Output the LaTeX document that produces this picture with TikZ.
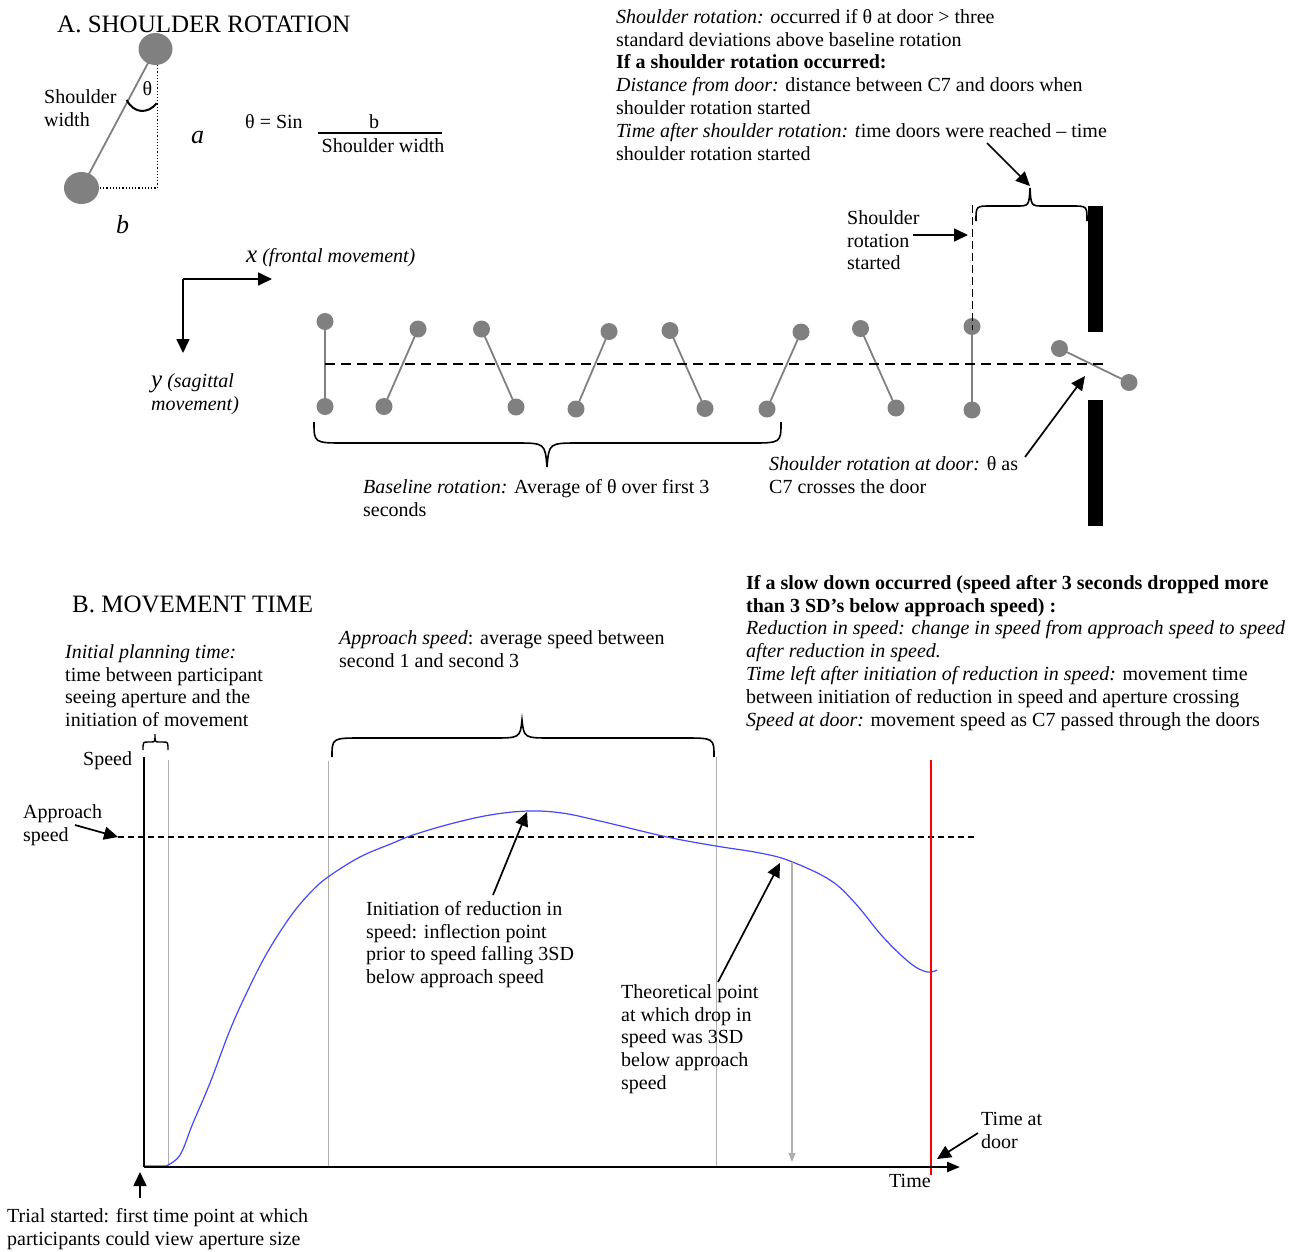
\documentclass[tikz,border=0pt]{standalone}
\usepackage{fontspec}
\setmainfont{Liberation Serif}
\usetikzlibrary{arrows.meta}
\definecolor{markgray}{RGB}{128,128,128}
\definecolor{lightgr}{RGB}{175,175,175}
\definecolor{curveblue}{RGB}{70,70,255}
\newcommand\bodyfont{\fontsize{20}{22.8}\selectfont}
\newcommand\headfont{\fontsize{25}{28}\selectfont}
\newcommand\bigit{\fontsize{26}{28}\selectfont\itshape}
\newcommand\axit{\fontsize{25}{28}\selectfont\itshape}
\begin{document}
\begin{tikzpicture}[x=1pt,y=-1pt,
  txt/.style={anchor=north west,inner sep=0pt,align=left,font=\bodyfont,yshift=15.96pt},
  one/.style={anchor=base west,inner sep=0pt,font=\bodyfont},
  arr/.style={line width=1.7pt,-{Triangle[length=14pt,width=13pt]}},
  grayarr/.style={line width=1.2pt,draw=lightgr,-{Triangle[length=9pt,width=7pt,fill=lightgr]}},
  brace/.style={line width=1.6pt},
  marker/.style={fill=markgray},
  markline/.style={draw=markgray,line width=1.8pt},
  thinline/.style={draw=lightgr,line width=1pt}]
\useasboundingbox (0,0) rectangle (1304,1251);

% ---------------- A. SHOULDER ROTATION ----------------
\node[one,font=\headfont] (hA) at (57,32) {A. SHOULDER ROTATION};

% shoulder schematic
\coordinate (topS) at (155.5,49);
\coordinate (botS) at (81.5,188);
\draw[markline] (topS) -- (botS);
\fill[marker] (topS) ellipse [x radius=17pt,y radius=16pt];
\fill[marker] (botS) ellipse [x radius=17.5pt,y radius=16pt];
\coordinate (dotTop) at (157.3,65);
\coordinate (dotCorner) at (157.3,188);
\coordinate (dotLeft) at (99,188);
\draw[dotted,line width=1.2pt] (dotTop) -- (dotCorner) -- (dotLeft);
\draw[line width=2pt] (126.7,100) .. controls (134,114) and (148,114) .. (156.7,103.3);
\node[one] (thetaA) at (142.5,95) {θ};
\node[txt] (swidth) at (44,103.5) {\strut Shoulder\\width};
\node[one,font=\bigit] (la) at (191,143) {a};
\node[one,font=\bigit] (lb) at (116,233) {b};
\node[one] (formula) at (245,128) {θ = Sin};
\node[anchor=base,inner sep=0pt,font=\bodyfont] (numb) at (374,128) {b};
\draw[line width=1.8pt] (318.3,133.3) -- (441.7,133.3);
\node[one] (denom) at (321.5,152) {Shoulder width};

% top right description
\node[txt] (toptext) at (616,23) {\strut\textit{Shoulder rotation: o}ccurred if θ at door > three\\
standard deviations above baseline rotation\\
\textbf{If a shoulder rotation occurred:}\\
\textit{Distance from door:} distance between C7 and doors when\\
shoulder rotation started\\
\textit{Time after shoulder rotation: t}ime doors were reached – time\\
shoulder rotation started};

% axes
\coordinate (axC) at (183,279);
\coordinate (axX) at (272,279);
\coordinate (axY) at (183,353);
\draw[arr] (axC) -- (axX);
\draw[arr] (axC) -- (axY);
\node[one] (xlab) at (246,262) {{\axit x} \textit{(frontal movement)}};
\node[txt] (ylab) at (151,387) {\strut{\axit y} \textit{(sagittal}\\\textit{movement)}};

% markers
\foreach \tx/\ty/\bx/\by [count=\i] in {325/321.5/325/406.5, 418/329/384/406.5, 481.5/329/516/407, 609/331.5/576/409, 670/330.5/705/408.5, 801/332/767/409, 860.5/328.5/896/408, 972/326.5/972/410}{
  \coordinate (mt\i) at (\tx,\ty);
  \coordinate (mb\i) at (\bx,\by);
  \draw[markline] (mt\i) -- (mb\i);
  \fill[marker] (mt\i) circle[radius=8.5pt];
  \fill[marker] (mb\i) circle[radius=8.5pt];
}
\coordinate (md1) at (1059.5,348.5);
\coordinate (md2) at (1129,382.5);
\draw[markline] (md1) -- (md2);
\fill[marker] (md1) circle[radius=8.5pt];
\fill[marker] (md2) circle[radius=8.5pt];

% walls of the door
\fill[black] (1088,206) rectangle (1103,332);
\fill[black] (1088,400) rectangle (1103,526);

% dashed midline
\coordinate (midL) at (325,364);
\coordinate (midR) at (1105,364);
\draw[dash pattern=on 10pt off 6pt,line width=1.6pt] (midL) -- (midR);
% dashed vertical at rotation start
\coordinate (rsTop) at (972.5,205);
\coordinate (rsBot) at (972.5,330);
\draw[dash pattern=on 8pt off 4pt,line width=1.6pt] (rsTop) -- (rsBot);

% brace time after rotation
\draw[brace] (976,221) .. controls (976,206) .. (991,206) -- (1016,206)
  .. controls (1029,206) .. (1030,188) .. controls (1031,206) .. (1044,206)
  -- (1072,206) .. controls (1087,206) .. (1087,221);
\coordinate (braceTip) at (1030,186);
\coordinate (tarStart) at (987,143);
\draw[arr] (tarStart) -- (braceTip);

% shoulder rotation started
\node[txt] (srs) at (847,224) {\strut Shoulder\\rotation\\started};
\coordinate (srsA) at (913,235);
\coordinate (srsB) at (968,235);
\draw[arr] (srsA) -- (srsB);

% shoulder rotation at door
\node[txt] (srd) at (769,470) {\strut\textit{Shoulder rotation at door:} θ as\\C7 crosses the door};
\coordinate (srdA) at (1025,457);
\coordinate (srdB) at (1085,376);
\draw[arr] (srdA) -- (srdB);

% baseline brace
\draw[brace] (314,422) .. controls (314,443) .. (345,443) -- (515,443)
  .. controls (545,443) .. (547,467) .. controls (549,443) .. (579,443)
  -- (750,443) .. controls (781,443) .. (781,422);
\node[txt] (basel) at (363,493) {\strut\textit{Baseline rotation:} Average of θ over first 3\\seconds};

% ---------------- B. MOVEMENT TIME ----------------
\node[one,font=\headfont] (hB) at (72,612) {B. MOVEMENT TIME};
\node[txt] (ipt) at (65,658) {\strut\textit{Initial planning time:}\\time between participant\\seeing aperture and the\\initiation of movement};
\node[txt] (aps) at (339,644) {\strut\textit{Approach speed}: average speed between\\second 1 and second 3};
\node[txt] (slow) at (746,589) {\strut\textbf{If a slow down occurred (speed after 3 seconds dropped more}\\
\textbf{than 3 SD’s below approach speed) :}\\
\textit{Reduction in speed: change in speed from approach speed to speed}\\
\textit{after reduction in speed.}\\
\textit{Time left after initiation of reduction in speed:} movement time\\
between initiation of reduction in speed and aperture crossing\\
\textit{Speed at door:} movement speed as C7 passed through the doors};

% braces
\draw[line width=1.4pt] (143,750) .. controls (143,742) .. (148,742) -- (151,742)
  .. controls (155,742) .. (155,734) .. controls (155,742) .. (159,742)
  -- (163,742) .. controls (168,742) .. (168,750);
\draw[brace] (332,757) .. controls (332,738) .. (362,738) -- (492,738)
  .. controls (520,738) .. (522,720) .. controls (524,738) .. (552,738)
  -- (684,738) .. controls (714,738) .. (714,757);

% thin grey verticals
\draw[thinline] (168,760) -- (168,1167);
\draw[thinline] (328,761) -- (328,1167);
\draw[thinline] (716,757) -- (716,1167);

% approach speed dashed
\coordinate (apL) at (118,837);
\coordinate (apR) at (977,837);
\draw[dash pattern=on 6pt off 4pt,line width=1.4pt] (apL) -- (apR);

% speed curve
\draw[curveblue,line width=1.2pt] (144,1166) -- (166,1166)
  plot[smooth,tension=0.6] coordinates {(166,1166) (180,1155) (193,1123) (210,1083) (230,1030) (248,990) (267,953) (290,917) (310,893) (328,877) (360,857) (393,843) (413,835) (450,824) (490,815) (528,811) (562,813) (600,821) (667,837) (716,846) (760,853) (790,861) (830,880) (855,903) (883,937) (910,963) (927,972) (937,970)};

% red door line
\draw[red,line width=2pt] (931,760) -- (931,1175);

% axes
\coordinate (oB) at (144,1167);
\coordinate (yTop) at (144,757);
\coordinate (xEnd) at (960,1167);
\draw[line width=2.4pt] (yTop) -- (oB);
\draw[line width=2.4pt,-{Triangle[length=13pt,width=10pt]}] (oB) -- (xEnd);

% grey arrow
\coordinate (gaT) at (792,862);
\coordinate (gaB) at (792,1162);
\draw[grayarr] (gaT) -- (gaB);

% labels bottom
\node[one] (speedlab) at (83,765) {Speed};
\node[txt] (applab) at (23,818) {\strut Approach\\speed};
\coordinate (appA) at (75,825);
\coordinate (appB) at (118,837);
\draw[arr] (appA) -- (appB);

\node[txt] (init) at (366,915) {\strut Initiation of reduction in\\speed: inflection point\\prior to speed falling 3SD\\below approach speed};
\coordinate (initA) at (493,895);
\coordinate (initB) at (527,812);
\draw[arr] (initA) -- (initB);

\node[txt] (theo) at (621,998) {\strut Theoretical point\\at which drop in\\speed was 3SD\\below approach\\speed};
\coordinate (theoA) at (718,982);
\coordinate (theoB) at (780,863);
\draw[arr] (theoA) -- (theoB);

\node[one] (timelab) at (889,1187) {Time};
\node[txt] (tad) at (981,1125) {\strut Time at\\door};
\coordinate (tadA) at (978,1133);
\coordinate (tadB) at (937,1159);
\draw[arr] (tadA) -- (tadB);

\node[txt] (trial) at (7,1222) {\strut Trial started: first time point at which\\participants could view aperture size};
\coordinate (trA) at (140,1198);
\coordinate (trB) at (140,1172);
\draw[arr] (trA) -- (trB);
\end{tikzpicture}
\end{document}
